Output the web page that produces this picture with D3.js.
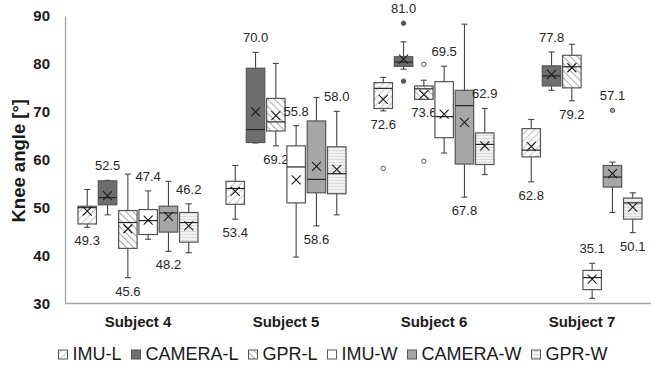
<!DOCTYPE html>
<html>
<head>
<meta charset="utf-8">
<script src="https://cdn.jsdelivr.net/npm/d3@7"></script>
<style>
  body { margin: 0; background: #fff; }
  svg { font-family: "Liberation Sans", Arial, sans-serif; }
</style>
</head>
<body>
<div id="chart"></div>
<script>
const subjects = ['Subject 4', 'Subject 5', 'Subject 6', 'Subject 7'];
const series = ['IMU-L', 'CAMERA-L', 'GPR-L', 'IMU-W', 'CAMERA-W', 'GPR-W'];
const yTicks = [30, 40, 50, 60, 70, 80, 90];

// [lower whisker, Q1, median, Q3, upper whisker], one per subject
const imuL = [[45.9, 46.6, 50.0, 50.3, 53.8], [47.6, 50.7, 54.0, 55.5, 58.8], [70.2, 70.7, 74.9, 76.1, 77.2], [55.4, 60.6, 62.0, 66.5, 68.4]];
const cameraL = [[48.5, 50.6, 52.1, 55.6, 55.7], [63.5, 63.6, 66.3, 79.1, 82.4], [78.9, 79.5, 80.4, 81.5, 84.6], [74.5, 75.4, 77.5, 79.6, 82.5]];
const gprL = [[35.4, 41.5, 46.9, 49.4, 57.0], [62.9, 66.0, 67.9, 72.8, 80.1], [72.6, 72.6, 74.8, 75.4, 76.6], [72.3, 75.0, 79.4, 81.8, 84.1]];
const imuW = [[43.4, 44.4, 47.3, 49.6, 53.5], [39.7, 51.0, 58.5, 62.9, 67.1], [61.4, 64.6, 69.0, 76.3, 79.5], [31.1, 32.9, 35.4, 36.9, 38.4]];
const cameraW = [[40.9, 44.9, 48.9, 50.3, 55.5], [46.2, 53.1, 55.9, 68.1, 73.0], [52.2, 59.1, 71.3, 74.5, 88.3], [49.0, 54.3, 56.4, 58.8, 59.5]];
const gprW = [[40.6, 42.8, 46.9, 49.0, 50.8], [48.5, 52.9, 57.1, 62.7, 70.1], [56.9, 59.0, 63.2, 65.6, 70.7], [44.8, 47.6, 51.0, 52.0, 53.1]];

// means (the x marker and the number label)
const meanImuL = [49.3, 53.4, 72.6, 62.8];
const meanCameraL = [52.5, 70.0, 81.0, 77.8];
const meanGprL = [45.6, 69.2, 73.6, 79.2];
const meanImuW = [47.4, 55.8, 69.5, 35.1];
const meanCameraW = [48.2, 58.6, 67.8, 57.1];
const meanGprW = [46.2, 58.0, 62.9, 50.1];

// outliers: [series, subject, value]
const outliers = [
  ['IMU-L', 'Subject 6', 58.2],
  ['CAMERA-L', 'Subject 6', 88.5],
  ['CAMERA-L', 'Subject 6', 76.4],
  ['GPR-L', 'Subject 6', 79.9],
  ['GPR-L', 'Subject 6', 59.7],
  ['CAMERA-W', 'Subject 7', 70.3]
];

// where the mean label sits, per series then subject
const labelSide = [
  ['below', 'below', 'below', 'below'],
  ['above', 'above', 'above', 'above'],
  ['below', 'below', 'below', 'below'],
  ['above', 'above', 'above', 'above'],
  ['below', 'below', 'below', 'above'],
  ['above', 'above', 'above', 'below']
];

const boxes = [imuL, cameraL, gprL, imuW, cameraW, gprW];
const means = [meanImuL, meanCameraL, meanGprL, meanImuW, meanCameraW, meanGprW];

const W = 651, H = 366;
const margin = {top: 16, right: -5, bottom: 62.5, left: 64};

const svg = d3.select('#chart').append('svg')
  .attr('width', W)
  .attr('height', H);

// hatch patterns
const defs = svg.append('defs');
function hatch(id, angle, size, stroke, sw, bg) {
  const p = defs.append('pattern')
    .attr('id', id)
    .attr('patternUnits', 'userSpaceOnUse')
    .attr('width', size)
    .attr('height', size)
    .attr('patternTransform', 'rotate(' + angle + ')');
  p.append('rect').attr('width', size).attr('height', size).attr('fill', bg);
  p.append('line')
    .attr('x1', 0).attr('y1', 0).attr('x2', 0).attr('y2', size)
    .attr('stroke', stroke).attr('stroke-width', sw);
}
hatch('hImuL', 45, 5, '#c8c8c8', 2.2, '#ffffff');
hatch('hGprL', -45, 5, '#a9a9a9', 2, '#ffffff');
hatch('hGprW', 90, 3, '#c9c9c9', 1.1, '#f2f2f2');

const fills = ['url(#hImuL)', '#6e6e6e', 'url(#hGprL)', '#ffffff', '#a6a6a6', 'url(#hGprW)'];
const outlierFill = ['#ffffff', '#5a5a5a', '#ffffff', '#ffffff', '#a6a6a6', '#e6e6e6'];

const x0 = d3.scaleBand()
  .domain(subjects)
  .range([margin.left, W - margin.right]);

const x1 = d3.scaleBand()
  .domain(series)
  .range([0, x0.bandwidth()])
  .paddingInner(0.09)
  .paddingOuter(0.69);

const y = d3.scaleLinear()
  .domain([30, 90])
  .range([H - margin.bottom, margin.top]);

// axes
const yAxis = svg.append('g')
  .attr('transform', 'translate(' + (margin.left + 1) + ',0)')
  .call(d3.axisLeft(y).tickValues(yTicks).tickSize(0).tickSizeOuter(0).tickPadding(15));
yAxis.select('.domain').attr('stroke', '#a6a6a6').attr('stroke-width', 1.3);
yAxis.selectAll('text')
  .attr('font-size', 15)
  .attr('font-weight', 'bold')
  .attr('fill', '#1a1a1a')
  .attr('font-family', '"Liberation Sans", Arial, sans-serif');

const xAxis = svg.append('g')
  .attr('transform', 'translate(0,' + y(30) + ')')
  .call(d3.axisBottom(x0).tickSize(0).tickSizeOuter(0).tickPadding(13));
xAxis.select('.domain').attr('stroke', '#a6a6a6').attr('stroke-width', 1.3)
  .attr('d', 'M' + (margin.left + 1) + ',0H' + W);
xAxis.selectAll('text')
  .attr('font-size', 15)
  .attr('font-weight', 'bold')
  .attr('fill', '#1a1a1a')
  .attr('font-family', '"Liberation Sans", Arial, sans-serif');

svg.append('text')
  .attr('transform', 'translate(25,' + (y(60) + 1) + ') rotate(-90)')
  .attr('text-anchor', 'middle')
  .attr('font-size', 18.5)
  .attr('font-weight', 'bold')
  .attr('fill', '#1a1a1a')
  .text('Knee angle [°]');

// table of boxes
const table = [];
series.forEach((s, i) => {
  subjects.forEach((sub, j) => {
    table.push({
      series: s,
      si: i,
      subject: sub,
      stats: boxes[i][j],
      mean: means[i][j],
      side: labelSide[i][j],
      outs: outliers.filter(o => o[0] === s && o[1] === sub).map(o => o[2])
    });
  });
});

const bw = x1.bandwidth();
const g = svg.selectAll('g.box')
  .data(table)
  .join('g')
  .attr('class', 'box')
  .attr('transform', d => 'translate(' + (x0(d.subject) + x1(d.series)) + ',0)');

// whiskers
g.append('line')
  .attr('x1', bw / 2).attr('x2', bw / 2)
  .attr('y1', d => y(d.stats[0])).attr('y2', d => y(d.stats[4]))
  .attr('stroke', '#444').attr('stroke-width', 1.1);
g.selectAll('line.cap')
  .data(d => [d.stats[0], d.stats[4]])
  .join('line')
  .attr('class', 'cap')
  .attr('x1', bw / 2 - 3).attr('x2', bw / 2 + 3)
  .attr('y1', v => y(v)).attr('y2', v => y(v))
  .attr('stroke', '#444').attr('stroke-width', 1.1);

// box
g.append('rect')
  .attr('x', 0)
  .attr('width', bw)
  .attr('y', d => y(d.stats[3]))
  .attr('height', d => y(d.stats[1]) - y(d.stats[3]))
  .attr('fill', d => fills[d.si])
  .attr('stroke', '#555')
  .attr('stroke-width', 1.2);

// median
g.append('line')
  .attr('x1', 0).attr('x2', bw)
  .attr('y1', d => y(d.stats[2])).attr('y2', d => y(d.stats[2]))
  .attr('stroke', '#262626').attr('stroke-width', 1.2);

// mean marker
g.append('path')
  .attr('d', d => {
    const cy = y(d.mean), cx = bw / 2, r = 4.5;
    return 'M' + (cx - r) + ',' + (cy - r) + 'L' + (cx + r) + ',' + (cy + r) +
      'M' + (cx - r) + ',' + (cy + r) + 'L' + (cx + r) + ',' + (cy - r);
  })
  .attr('stroke', '#1a1a1a').attr('stroke-width', 1.1).attr('fill', 'none');

// outliers
g.selectAll('circle')
  .data(d => d.outs.map(v => ({v: v, si: d.si})))
  .join('circle')
  .attr('cx', bw / 2)
  .attr('cy', o => y(o.v))
  .attr('r', 2.2)
  .attr('fill', o => outlierFill[o.si])
  .attr('stroke', '#555')
  .attr('stroke-width', 1);

// mean labels
g.append('text')
  .attr('x', bw / 2)
  .attr('y', d => {
    if (d.side === 'above') {
      const top = d3.max([d.stats[4]].concat(d.outs.filter(v => v > d.stats[4])));
      return y(top) - 10;
    }
    return y(d.stats[0]) + 18;
  })
  .attr('text-anchor', 'middle')
  .attr('font-size', 13)
  .attr('fill', '#262626')
  .text(d => d.mean.toFixed(1));

// legend
const legend = svg.append('g');
let lx = 0;
series.forEach((s, i) => {
  const item = legend.append('g').attr('transform', 'translate(' + lx + ',0)');
  item.append('rect')
    .attr('x', 0).attr('y', -10)
    .attr('width', 9).attr('height', 9)
    .attr('fill', fills[i])
    .attr('stroke', '#555').attr('stroke-width', 1);
  const t = item.append('text')
    .attr('x', 14).attr('y', 0)
    .attr('font-size', 18)
    .attr('fill', '#1a1a1a')
    .text(s);
  lx += 14 + t.node().getComputedTextLength() + 10;
});
const legendWidth = lx - 10;
legend.attr('transform', 'translate(' + (333 - legendWidth / 2) + ',360)');
</script>
</body>
</html>
